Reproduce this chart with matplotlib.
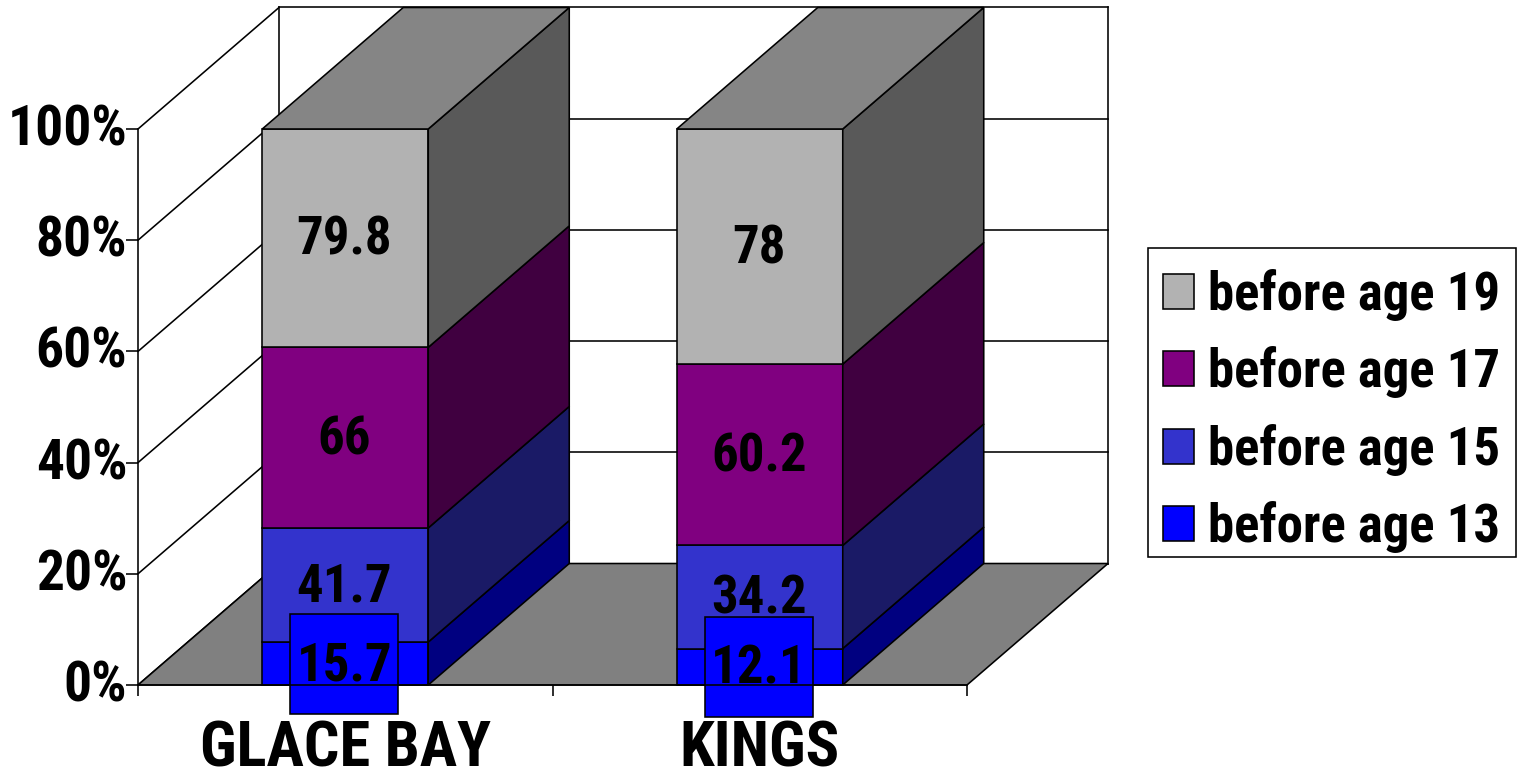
import matplotlib
matplotlib.use("Agg")
import matplotlib.pyplot as plt
from matplotlib.patches import Polygon, Patch, Rectangle
from matplotlib.ticker import FuncFormatter
from matplotlib.transforms import ScaledTranslation

categories = ["GLACE BAY", "KINGS"]
series_names = ["before age 13", "before age 15", "before age 17", "before age 19"]
before_13 = [15.7, 12.1]
before_15 = [41.7, 34.2]
before_17 = [66, 60.2]
before_19 = [79.8, 78]
series_values = [before_13, before_15, before_17, before_19]

front_colors = ["#0000FF", "#3333CC", "#800080", "#B2B2B2"]
side_colors = ["#000080", "#1A1A66", "#400040", "#595959"]
top_color = "#858585"
floor_color = "#808080"
boxed_series = 0

W, H = 1517, 769
FONT = ["Roboto Condensed", "Liberation Sans"]
plt.rcParams["font.family"] = FONT
plt.rcParams["font.weight"] = "bold"
LW = 1.15

fig = plt.figure(figsize=(W / 100, H / 100), dpi=100, facecolor="white")
ax = fig.add_axes([138 / W, 1 - 685 / H, (967 - 138) / W, (685 - 129) / H])
ax.set_xlim(0, len(categories))
ax.set_ylim(0, 100)
ax.patch.set_visible(False)

px_x = len(categories) / (967 - 138)
px_y = 100 / (685 - 129)
DX = 141 * px_x
DY = 121.5 * px_y
BAR_W = 166 * px_x


def poly(points, face, z, edge="black", lw=LW):
    ax.add_patch(Polygon(points, closed=True, facecolor=face, edgecolor=edge,
                         linewidth=lw, zorder=z, clip_on=False, joinstyle="miter"))


n = len(categories)
# walls and gridlines
for t in range(0, 101, 20):
    ax.plot([0, DX], [t, t + DY], color="black", lw=LW, zorder=1, clip_on=False)
    ax.plot([DX, n + DX], [t + DY, t + DY], color="black", lw=LW, zorder=1, clip_on=False)
ax.plot([DX, DX], [DY, 100 + DY], color="black", lw=LW, zorder=1, clip_on=False)
ax.plot([n + DX, n + DX], [DY, 100 + DY], color="black", lw=LW, zorder=1, clip_on=False)
poly([(0, 0), (n, 0), (n + DX, DY), (DX, DY)], floor_color, 2)

# stacked bars
z = 3
for i in range(n):
    total = sum(s[i] for s in series_values)
    x0 = i + 0.5 - BAR_W / 2
    x1 = x0 + BAR_W
    base = 0.0
    for j, s in enumerate(series_values):
        top = base + s[i] / total * 100
        poly([(x0, base), (x1, base), (x1, top), (x0, top)], front_colors[j], z)
        poly([(x1, base), (x1 + DX, base + DY), (x1 + DX, top + DY), (x1, top)], side_colors[j], z)
        if j == len(series_values) - 1:
            poly([(x0, top), (x1, top), (x1 + DX, top + DY), (x0 + DX, top + DY)], top_color, z)
        mid = (base + top) / 2
        xc = i + 0.5 - 1 * px_x
        if j == boxed_series:
            bw, bh = 108 * px_x, 100 * px_y
            ax.add_patch(Rectangle((xc - bw / 2, mid - bh / 2), bw, bh, facecolor=front_colors[j],
                                   edgecolor="black", linewidth=LW, zorder=6, clip_on=False))
            ax.plot([xc - bw / 2, xc + bw / 2], [0, 0], color="black", lw=LW,
                    zorder=6.5, clip_on=False)
        ax.text(xc, mid + 3.5 * px_y, f"{s[i]:g}", ha="center", va="center_baseline", fontsize=38,
                fontweight="bold", color="black", zorder=7, clip_on=False)
        base = top

# axes
for name in ("top", "right"):
    ax.spines[name].set_visible(False)
for name in ("left", "bottom"):
    ax.spines[name].set_linewidth(LW)
    ax.spines[name].set_zorder(5)
ax.set_yticks(range(0, 101, 20))
ax.yaxis.set_major_formatter(FuncFormatter(lambda v, _: f"{v:.0f}%"))
ax.set_xticks(range(n + 1))
ax.set_xticklabels([])
ax.set_xticks([i + 0.5 for i in range(n)], minor=True)
ax.set_xticklabels(categories, minor=True, fontsize=45, fontweight="bold")
ax.tick_params(axis="x", which="minor", length=0, pad=25)
ax.tick_params(axis="x", which="major", length=8, width=LW)
ax.tick_params(axis="y", which="major", length=8.6, width=LW, pad=-1, labelsize=40)
shift = ScaledTranslation(0, 4 / 100, fig.dpi_scale_trans)
for label in ax.get_yticklabels():
    label.set_transform(label.get_transform() + shift)

# legend: frame drawn on its own so its padding can differ per side
fig.add_artist(Rectangle((1147.5 / W, 1 - 557 / H), (1515.5 - 1147.5) / W, (557 - 248) / H,
                         transform=fig.transFigure, facecolor="white", edgecolor="black",
                         linewidth=LW, zorder=8))
handles = [Patch(facecolor=c, edgecolor="black", linewidth=LW) for c in front_colors][::-1]
leg = fig.legend(handles, series_names[::-1], loc="upper left",
                 bbox_to_anchor=(1163 / W, 1 - 269 / H), borderaxespad=0,
                 fontsize=38, frameon=False,
                 handlelength=0.587, handleheight=0.644, handletextpad=0.265,
                 labelspacing=0.48, borderpad=0)
leg.set_zorder(9)
for t in leg.get_texts():
    t.set_fontweight("bold")

fig.savefig("out.png", dpi=100)
